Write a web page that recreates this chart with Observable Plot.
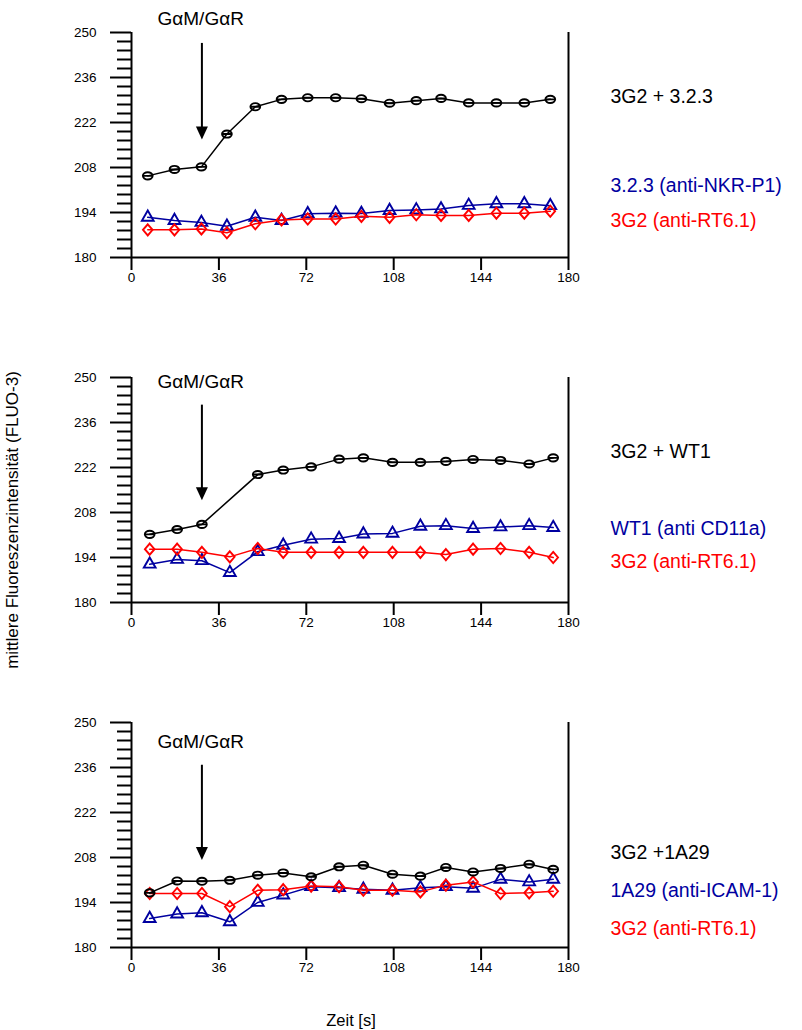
<!DOCTYPE html>
<html><head><meta charset="utf-8">
<script src="https://cdn.jsdelivr.net/npm/d3@7"></script>
<script src="https://cdn.jsdelivr.net/npm/@observablehq/plot@0.6"></script>
<style>
body{margin:0;background:#fff;font-family:"Liberation Sans",Arial,sans-serif;}
#wrap{position:relative;width:802px;height:1030px;overflow:hidden;background:#fff;}
.panel{position:absolute;left:0;}
#ylab{position:absolute;left:13px;top:520px;transform:translate(-50%,-50%) rotate(-90deg);white-space:nowrap;font-size:17px;color:#000;}
#xlab{position:absolute;left:351px;top:1020px;transform:translate(-50%,-50%);white-space:nowrap;font-size:16.5px;color:#000;}
#wrap svg g[aria-label$="tick label"]{font-size:13.5px;}
</style></head><body>
<div id="wrap">
  <div id="ylab">mittlere Fluoreszenzintensität (FLUO-3)</div>
  <div id="xlab">Zeit [s]</div>
</div>
<script>
// ---- data ----
const time1 = [6.7, 17.7, 28.8, 39.3, 51, 61.8, 72.6, 84.1, 94.7, 106.3, 117.3, 127.5, 138.9, 150.3, 161.8, 172.5];
const time23 = [7.5, 18.8, 29, 40.5, 52, 62.5, 74, 85.5, 95.5, 107.5, 119, 129.5, 140.7, 152, 163.8, 173.7];

const p1Black = [205.4, 207.4, 208.2, 218.4, 226.9, 229.2, 229.7, 229.7, 229.4, 228.0, 228.8, 229.5, 228.1, 228.1, 228.1, 229.2];
const p1Blue  = [192.5, 191.5, 190.9, 189.7, 192.5, 191.5, 193.6, 193.8, 193.7, 194.6, 194.8, 195.1, 196.2, 196.7, 196.7, 196.1];
const p1Red   = [188.6, 188.6, 188.9, 187.7, 190.5, 191.7, 192.0, 192.0, 192.8, 192.5, 193.3, 193.1, 193.1, 193.8, 193.8, 194.4];

const p2Black = [201.2, 202.7, 204.3, null, 219.8, 221.2, 222.2, 224.6, 225.0, 223.6, 223.6, 223.9, 224.5, 224.2, 223.1, 225.0];
const p2Blue  = [191.9, 193.4, 193.0, 189.3, 195.8, 197.8, 199.7, 199.9, 201.3, 201.5, 203.7, 203.9, 203.0, 203.5, 203.9, 203.3];
const p2Red   = [196.6, 196.6, 195.6, 194.2, 196.8, 195.6, 195.6, 195.6, 195.6, 195.6, 195.6, 194.9, 196.6, 196.8, 195.6, 194.0];

const p3Black = [197.0, 200.7, 200.6, 200.9, 202.5, 203.2, 202.0, 205.1, 205.6, 202.8, 202.2, 204.9, 203.5, 204.6, 205.9, 204.3];
const p3Blue  = [189.0, 190.4, 190.8, 188.0, 194.0, 196.3, 198.9, 198.6, 198.1, 197.8, 198.6, 198.9, 198.4, 201.2, 200.4, 201.2];
const p3Red   = [196.8, 196.8, 196.8, 192.7, 197.8, 198.0, 199.1, 198.9, 197.8, 197.8, 197.3, 199.4, 200.4, 196.8, 197.0, 197.5];

const labels1 = ["3G2 + 3.2.3", "3.2.3 (anti-NKR-P1)", "3G2 (anti-RT6.1)"];
const labels2 = ["3G2 + WT1", "WT1 (anti CD11a)", "3G2 (anti-RT6.1)"];
const labels3 = ["3G2 +1A29", "1A29 (anti-ICAM-1)", "3G2 (anti-RT6.1)"];
const stimulusLabel = "GαM/GαR";
const stimulusTime = 29;

const yMajorTicks = [180, 194, 208, 222, 236, 250];
const yMinorTicks = [182.8, 185.6, 188.4, 191.2, 196.8, 199.6, 202.4, 205.2, 210.8, 213.6, 216.4, 219.2,
                     224.8, 227.6, 230.4, 233.2, 238.8, 241.6, 244.4, 247.2];
const xTicks = [0, 36, 72, 108, 144, 180];

// ---- styling / layout ----
const colors = {black: "#000000", blue: "#0000a0", red: "#ff0000"};
const FONT = "Liberation Sans, Arial, sans-serif";

const k = 0.5523;
const ellipseSym = {draw(ctx) {
  const rx = 4.9, ry = 3.6;
  ctx.moveTo(rx, 0);
  ctx.bezierCurveTo(rx, ry * k, rx * k, ry, 0, ry);
  ctx.bezierCurveTo(-rx * k, ry, -rx, ry * k, -rx, 0);
  ctx.bezierCurveTo(-rx, -ry * k, -rx * k, -ry, 0, -ry);
  ctx.bezierCurveTo(rx * k, -ry, rx, -ry * k, rx, 0);
  ctx.closePath();
  ctx.moveTo(-rx, 0); ctx.lineTo(rx, 0);
}};
const triSym = {draw(ctx) {
  ctx.moveTo(0, -6.8); ctx.lineTo(5.9, 3.4); ctx.lineTo(-5.9, 3.4); ctx.closePath();
}};
const diaSym = {draw(ctx) {
  ctx.moveTo(0, -5.6); ctx.lineTo(4.8, 0); ctx.lineTo(0, 5.6); ctx.lineTo(-4.8, 0); ctx.closePath();
}};
const headSym = {draw(ctx) {
  ctx.moveTo(0, 0); ctx.lineTo(-6, -13); ctx.lineTo(6, -13); ctx.closePath();
}};

function rows(times, vals) {
  return times.map((t, i) => ({t, v: vals[i]})).filter(d => d.v != null);
}

function panel(times, black, blue, red, labels, cfg) {
  const B = rows(times, black), U = rows(times, blue), R = rows(times, red);
  const series = [[U, colors.blue, triSym], [R, colors.red, diaSym], [B, colors.black, ellipseSym]];
  const marks = [
    Plot.axisY({ticks: yMinorTicks, tickSize: 14, tickFormat: () => "", label: null, strokeWidth: 2}),
    Plot.axisY({ticks: yMajorTicks, tickSize: 21, tickPadding: 14, label: null, strokeWidth: 2, fontSize: 13.5}),
    Plot.axisX({ticks: xTicks, tickSize: 13, tickPadding: 2, label: null, strokeWidth: 2, fontSize: 13.5}),
    Plot.ruleX([0, 180], {y1: 180, y2: 250, strokeWidth: 2}),
    Plot.ruleY([180], {x1: 0, x2: 180, strokeWidth: 2})
  ];
  for (const [d, c, s] of series) {
    marks.push(Plot.line(d, {x: "t", y: "v", stroke: c, strokeWidth: 1.5}));
    marks.push(Plot.dot(d, {x: "t", y: "v", symbol: s, stroke: c, strokeWidth: 1.9, fill: "none"}));
  }
  marks.push(Plot.ruleX([stimulusTime], {y1: cfg.arrowTop, y2: cfg.arrowTip + 3.6, strokeWidth: 2}));
  marks.push(Plot.dot([stimulusTime], {x: d => d, y: () => cfg.arrowTip, symbol: headSym, fill: "black", stroke: "none"}));
  marks.push(Plot.text([stimulusLabel], {x: () => 28.5, y: () => cfg.labelY, text: d => d, fontSize: 19, textAnchor: "middle", fill: "black"}));
  const lc = [colors.black, colors.blue, colors.red];
  labels.forEach((l, i) => {
    marks.push(Plot.text([l], {x: () => 197.3, y: () => cfg.legendY[i], text: d => d, fontSize: 19.5, textAnchor: "start", fill: lc[i]}));
  });
  return Plot.plot({
    width: 802, height: 290,
    marginLeft: 131, marginRight: 234, marginTop: 32, marginBottom: 33,
    x: {domain: [0, 180]}, y: {domain: [180, 250]},
    style: {fontFamily: FONT, fontSize: "13.5px", background: "transparent", overflow: "visible", color: "black"},
    marks
  });
}

const wrap = document.getElementById("wrap");
const defs = [
  {top: 0, times: time1, b: p1Black, u: p1Blue, r: p1Red, labels: labels1,
   cfg: {arrowTop: 246.6, arrowTip: 216.7, labelY: 254.2, legendY: [229.9, 202.4, 191.5]}},
  {top: 345, times: time23, b: p2Black, u: p2Blue, r: p2Red, labels: labels2,
   cfg: {arrowTop: 241.4, arrowTip: 211.8, labelY: 248.5, legendY: [226.9, 203.0, 192.8]}},
  {top: 690, times: time23, b: p3Black, u: p3Blue, r: p3Red, labels: labels3,
   cfg: {arrowTop: 236.7, arrowTip: 207.2, labelY: 244.0, legendY: [209.4, 197.8, 185.9]}}
];
for (const p of defs) {
  const div = document.createElement("div");
  div.className = "panel";
  div.style.top = p.top + "px";
  div.appendChild(panel(p.times, p.b, p.u, p.r, p.labels, p.cfg));
  wrap.appendChild(div);
}
</script>
</body></html>
